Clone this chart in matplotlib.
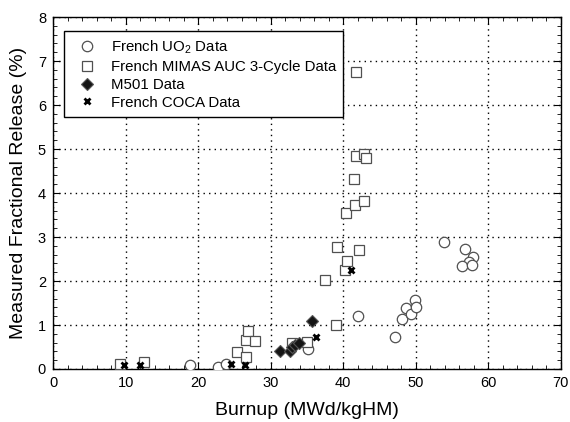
import matplotlib
matplotlib.use("Agg")
import matplotlib.pyplot as plt
from matplotlib.ticker import MultipleLocator

plt.rcParams["font.family"] = ["Liberation Sans", "DejaVu Sans"]
plt.rcParams["mathtext.fontset"] = "custom"
plt.rcParams["mathtext.rm"] = "Liberation Sans"

# French UO2 data
uo2_burnup = [18.9, 22.8, 23.9, 35.2, 42.1, 47.1, 48.1, 48.7, 49.3, 49.9, 50.0,
              53.9, 56.8, 57.9, 57.4, 56.4, 57.8]
uo2_release = [0.09, 0.04, 0.12, 0.46, 1.21, 0.72, 1.14, 1.39, 1.24, 1.57, 1.40,
               2.89, 2.72, 2.55, 2.44, 2.34, 2.36]

# French MIMAS AUC 3-cycle data
mimas_burnup = [9.3, 12.6, 25.3, 26.6, 26.6, 26.9, 27.8, 33.0, 35.0, 37.5, 39.0,
                39.1, 40.2, 40.5, 40.4, 41.5, 41.6, 41.8, 42.2, 42.8, 42.9, 43.2, 41.8]
mimas_release = [0.11, 0.15, 0.39, 0.27, 0.67, 0.86, 0.63, 0.58, 0.61, 2.02, 0.99,
                 2.77, 2.25, 2.45, 3.54, 4.32, 3.73, 4.84, 2.70, 4.89, 3.82, 4.79, 6.74]

# M501 data
m501_burnup = [31.3, 32.7, 33.0, 33.4, 33.9, 35.7]
m501_release = [0.40, 0.42, 0.50, 0.55, 0.58, 1.09]

# French COCA data
coca_burnup = [9.8, 12.0, 24.6, 26.4, 36.3, 41.1]
coca_release = [0.08, 0.09, 0.11, 0.09, 0.73, 2.25]


def draw_graph():
    fig = plt.figure(figsize=(5.7, 4.22), dpi=100)
    ax = fig.add_axes([0.093, 0.1256, 0.891, 0.834])

    edge = "#505050"
    ax.plot(uo2_burnup, uo2_release, "o", ms=7.5, mfc="white", mec=edge, mew=0.9,
            ls="none", label="French UO$_2$ Data", zorder=3)
    ax.plot(mimas_burnup, mimas_release, "s", ms=7.5, mfc="white", mec=edge, mew=0.9,
            ls="none", label="French MIMAS AUC 3-Cycle Data", zorder=3)
    ax.plot(m501_burnup, m501_release, "D", ms=6.5, mfc="#151515", mec="#555555", mew=0.8,
            ls="none", label="M501 Data", zorder=4)
    ax.plot(coca_burnup, coca_release, "x", ms=5, mec="black", mew=2,
            ls="none", label="French COCA Data", zorder=5)

    ax.set_xlim(0, 70)
    ax.set_ylim(0, 8)
    ax.xaxis.set_major_locator(MultipleLocator(10))
    ax.xaxis.set_minor_locator(MultipleLocator(2))
    ax.yaxis.set_major_locator(MultipleLocator(1))
    ax.yaxis.set_minor_locator(MultipleLocator(0.2))
    ax.tick_params(which="both", direction="in", top=True, right=True, labelsize=10.5)
    ax.tick_params(which="major", length=5, pad=5)
    ax.tick_params(which="minor", length=3)
    ax.grid(True, which="major", color="black", linestyle=(0, (1, 3)), linewidth=1)
    for s in ax.spines.values():
        s.set_linewidth(1)

    ax.set_xlabel("Burnup (MWd/kgHM)", fontsize=14, labelpad=9)
    ax.set_ylabel("Measured Fractional Release (%)", fontsize=14, labelpad=8)

    leg = ax.legend(loc="upper left", bbox_to_anchor=(0.0217, 0.960), borderaxespad=0,
                    fancybox=False, edgecolor="black", framealpha=1, fontsize=10.8,
                    handletextpad=0.6, labelspacing=0.25, borderpad=0.5, handlelength=2.0)
    leg.get_frame().set_linewidth(1)

    fig.savefig("out.png", dpi=100)
    plt.close(fig)


draw_graph()
